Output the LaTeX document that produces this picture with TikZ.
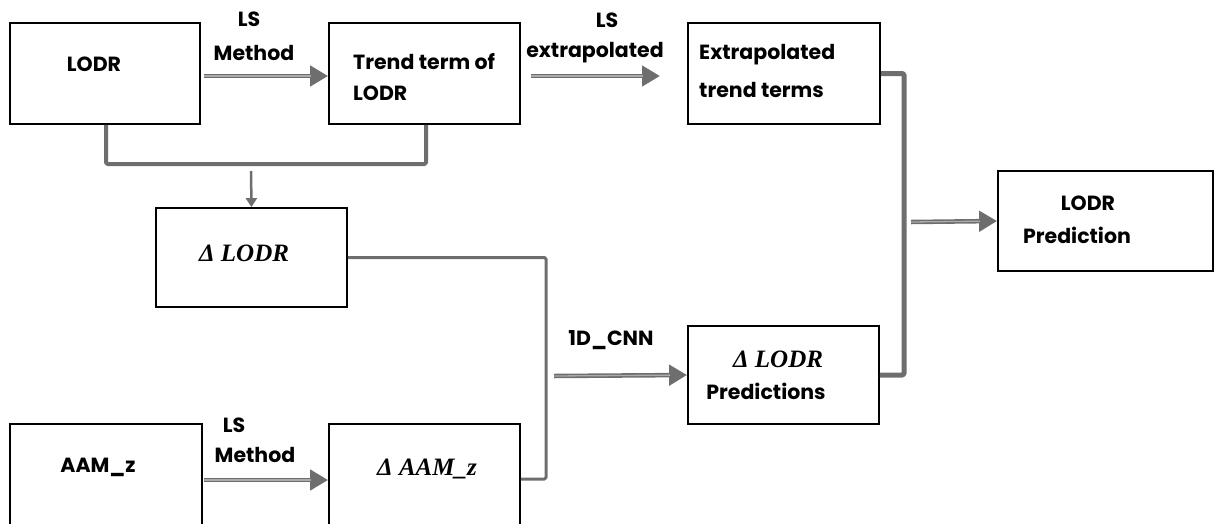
\documentclass[tikz,border=0pt]{standalone}
\usepackage{fontspec}
\setmainfont{Poppins}
\newfontfamily\serifmath{Liberation Serif}
\usetikzlibrary{arrows.meta}
\definecolor{lg}{HTML}{6E6E6E}
\definecolor{lgi}{HTML}{ABABAB}
\tikzset{
  box/.style={draw=black, line width=1.8pt, rectangle, inner sep=0pt},
  lbl/.style={font=\fontsize{20.5}{24}\selectfont\bfseries, inner sep=0pt, text=black},
  mlbl/.style={font=\fontsize{25}{29}\selectfont\serifmath\bfseries\itshape, inner sep=0pt, text=black},
  dbl/.style={draw=lg, line width=4.5pt, -{Triangle[length=18pt,width=20pt]},
    postaction={draw=lgi, line width=1.3pt, -, shorten >=17pt}},
  thinarr/.style={draw=lg, line width=2.5pt, -{Triangle[length=9pt,width=11pt]}},
  conn/.style={draw=lg, line join=round, rounded corners=1.5pt},
}
\begin{document}
\begin{tikzpicture}[x=1pt,y=-1pt]
\useasboundingbox (0,0) rectangle (1215,523);
\clip (0,0) rectangle (1215,523);
% boxes
\node[box, minimum width=190pt, minimum height=101pt] (lodr) at (105,73.5) {};
\node[box, minimum width=191pt, minimum height=101pt] (trend) at (424.5,73.5) {};
\node[box, minimum width=192pt, minimum height=101pt] (extr) at (784,73.5) {};
\node[box, minimum width=191pt, minimum height=99pt] (dlodr) at (251.5,257.5) {};
\node[box, minimum width=192pt, minimum height=106pt] (aam) at (106,477) {};
\node[box, minimum width=191pt, minimum height=106pt] (daam) at (424.5,477) {};
\node[box, minimum width=191pt, minimum height=98pt] (dpred) at (783.5,375) {};
\node[box, minimum width=215pt, minimum height=100pt] (pred) at (1105.5,221) {};
% texts in boxes
\node[lbl] (tlodr) at (94,64) {LODR};
\node[lbl, anchor=west] (ttrend1) at (353,62) {Trend term of};
\node[lbl, anchor=west] (ttrend2) at (353,93) {LODR};
\node[lbl, anchor=west] (textr1) at (699,55) {Extrapolated};
\node[lbl, anchor=west] (textr2) at (699,90) {trend terms};
\node[lbl] (tpred1) at (1088,203) {LODR};
\node[lbl] (tpred2) at (1077,235) {Prediction};
\node[mlbl] (tdlodr) at (244,253) {Δ LODR};
\node[mlbl] (tdpred1) at (778,359) {Δ LODR};
\node[lbl] (tdpred2) at (766,391) {Predictions};
\node[lbl] (taam) at (98,467) {AAM\_z};
\node[mlbl] (tdaam) at (427,469) {Δ AAM\_z};
% connector labels
\node[lbl] (l1a) at (249,19) {LS};
\node[lbl] (l1b) at (254,53) {Method};
\node[lbl] (l2a) at (607,20) {LS};
\node[lbl] (l2b) at (595,53) {extrapolated};
\node[lbl] (l3) at (611,340) {1D\_CNN};
\node[lbl] (l4a) at (234,425) {LS};
\node[lbl] (l4b) at (255,455) {Method};
% coordinates
\coordinate (ts) at (531,76);
\coordinate (te) at (660,76);
\coordinate (jm) at (266,164);
\coordinate (ja) at (251,171);
\coordinate (jd) at (546,366);
\coordinate (jc) at (554,376);
\coordinate (je) at (904,222);
\coordinate (jp) at (911,222);
% connectors
\draw[dbl, shorten <=3pt] ([yshift=-2.5pt]lodr.east) -- ([yshift=-2.5pt]trend.west);
\draw[dbl] (ts) -- (te);
\draw[conn, line width=4pt] ([xshift=1pt]lodr.south) |- (jm) -| ([xshift=1.5pt]trend.south);
\draw[thinarr] (ja) -- (dlodr.north);
\draw[conn, line width=3pt] (dlodr.east) -| (jd) |- ([yshift=-2pt]daam.east);
\draw[dbl] (jc) -- (dpred.west);
\draw[conn, line width=5pt] (extr.east) -| (je) |- (dpred.east);
\draw[dbl] (jp) -- (pred.west);
\draw[dbl, shorten <=1pt] ([yshift=-3pt]aam.east) -- ([yshift=-3pt]daam.west);
\end{tikzpicture}
\end{document}
